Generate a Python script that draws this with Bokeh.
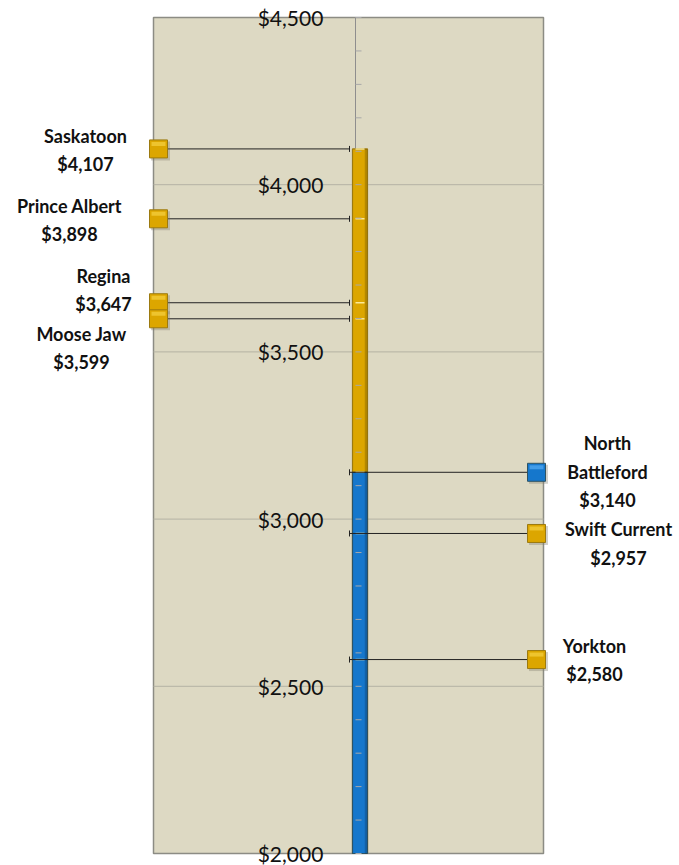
import numpy as np
from bokeh.plotting import figure
from bokeh.models import Range1d, ColumnDataSource
from bokeh.core.properties import value
from bokeh.embed import file_html
from bokeh.resources import INLINE

# ---- data ----
cities = ["Saskatoon", "Prince Albert", "Regina", "Moose Jaw", "North\nBattleford", "Swift Current", "Yorkton"]
costs = [4107, 3898, 3647, 3599, 3140, 2957, 2580]
side = ["left", "left", "left", "left", "right", "right", "right"]
highlight = "North\nBattleford"
y_ticks = [2000, 2500, 3000, 3500, 4000, 4500]

# ---- layout / style ----
FONT = "Lato"
GOLD = "#DCA600"
GOLD_EDGE = "#9C7A10"
GOLD_HI = "#F2CC3A"
BLUE = "#1577CC"
BLUE_EDGE = "#2E5464"
BLUE_HI = "#4EA6F0"
BG = "#DDD9C3"

W, H = 679, 865                 # canvas
AX_PX = 355                     # axis x (pixels from left)
PLOT_L, PLOT_R = 153, 543       # beige panel (pixels)
PLOT_T, PLOT_B = 17, 853
YMIN, YMAX = y_ticks[0], y_ticks[-1]
upp = (YMAX - YMIN) / (PLOT_B - PLOT_T)   # data units per pixel

label_dx = [-270, -286, -252, -274, 252, 263, 239]   # label centre, px from axis
label_dy = [13, 13, 27, -15, 29, 4, 14]               # first line, px above marker
line_step = 28.5
marker_x = {"left": PLOT_L + 5 - AX_PX, "right": 536 - AX_PX}

p = figure(width=W, height=H, output_backend="svg", toolbar_location=None,
           x_axis_type=None, y_axis_type=None,
           x_range=Range1d(-AX_PX, W - AX_PX),
           y_range=Range1d(YMIN - (H - PLOT_B) * upp, YMAX + PLOT_T * upp),
           min_border=0)
p.min_border_left = p.min_border_right = p.min_border_top = p.min_border_bottom = 0
p.background_fill_color = "white"
p.border_fill_color = "white"
p.outline_line_color = None
p.xgrid.visible = False
p.ygrid.visible = False

# beige plot panel
p.quad(left=[PLOT_L - AX_PX], right=[PLOT_R - AX_PX], bottom=[YMIN], top=[YMAX],
       fill_color=BG, line_color="#8C8C84", line_width=1.5)
# horizontal gridlines
inner = y_ticks[1:-1]
p.segment(x0=[PLOT_L - AX_PX] * len(inner), y0=inner, x1=[PLOT_R - AX_PX] * len(inner), y1=inner,
          line_color="#B4B2A4", line_width=1)

# centre axis line
p.segment(x0=[0], y0=[YMIN], x1=[0], y1=[YMAX], line_color="#8E8E8E", line_width=1)

# bars
p.vbar(x=[4.5], bottom=[YMIN], top=[max(costs)], width=15, fill_color=GOLD,
       line_color=GOLD_EDGE, line_width=1.2)
blue_val = costs[cities.index(highlight)]
p.vbar(x=[4.5], bottom=[YMIN], top=[blue_val], width=15, fill_color=BLUE,
       line_color=BLUE_EDGE, line_width=1.2)
p.vbar(x=[10.5], bottom=[YMIN], top=[max(costs)], width=2.5, fill_color="black",
       fill_alpha=0.18, line_color=None)
p.segment(x0=[0] * len(costs), y0=costs, x1=[9] * len(costs), y1=costs,
          line_color="#FFF2A8", line_width=1.5, line_alpha=0.9)

# axis tick marks
ticks = np.arange(YMIN, YMAX + 1, 100)
p.segment(x0=np.zeros(len(ticks)), y0=ticks, x1=np.full(len(ticks), 6), y1=ticks,
          line_color="#A8A8A8", line_width=1)

# leader lines
mx = [marker_x[s] for s in side]
p.segment(x0=mx, y0=costs, x1=[-6] * len(costs), y1=costs, line_color="#222222", line_width=1)
p.scatter(x=[-6] * len(costs), y=costs, marker="dash", angle=np.pi / 2, size=6,
          line_color="#222222", line_width=1)

# markers (shadow + square + bevel highlight)
colors = [BLUE if c == highlight else GOLD for c in cities]
edges = [BLUE_EDGE if c == highlight else GOLD_EDGE for c in cities]
his = [BLUE_HI if c == highlight else GOLD_HI for c in cities]
src = ColumnDataSource(dict(x=mx, y=costs, c=colors, e=edges, h=his,
                            hy=[v + 5 * upp for v in costs]))
shadow = ColumnDataSource(dict(x=[v + 2 for v in mx], y=[v - 2 * upp for v in costs]))
p.scatter(x="x", y="y", source=shadow, marker="square", size=19, fill_color="#7E7A6A",
          fill_alpha=0.35, line_color=None)
p.scatter(x="x", y="y", source=src, marker="square", size=18, fill_color="c",
          line_color="e", line_width=1)
p.rect(x="x", y="hy", source=src, width=14, height=4 * upp, fill_color="h",
       fill_alpha=0.8, line_color=None)

# tick labels on the chart
p.text(x=[290 - AX_PX] * len(y_ticks), y=y_ticks, text=[f"${v:,}" for v in y_ticks],
       text_align="center", text_baseline="middle", text_font=value(FONT),
       text_font_size="21px", text_color="#111111")

# data labels
lx, ly, lt = [], [], []
for name, v, dx, dy in zip(cities, costs, label_dx, label_dy):
    lines = name.split("\n") + [f"${v:,}"]
    for i, t in enumerate(lines):
        lx.append(dx)
        ly.append(v + (dy - i * line_step) * upp)
        lt.append(t)
p.text(x=lx, y=ly, text=lt, text_align="center", text_baseline="middle",
       text_font=value(FONT), text_font_style="bold", text_font_size="18px",
       text_color="#111111")

open("out.html", "w").write(file_html(p, INLINE))
